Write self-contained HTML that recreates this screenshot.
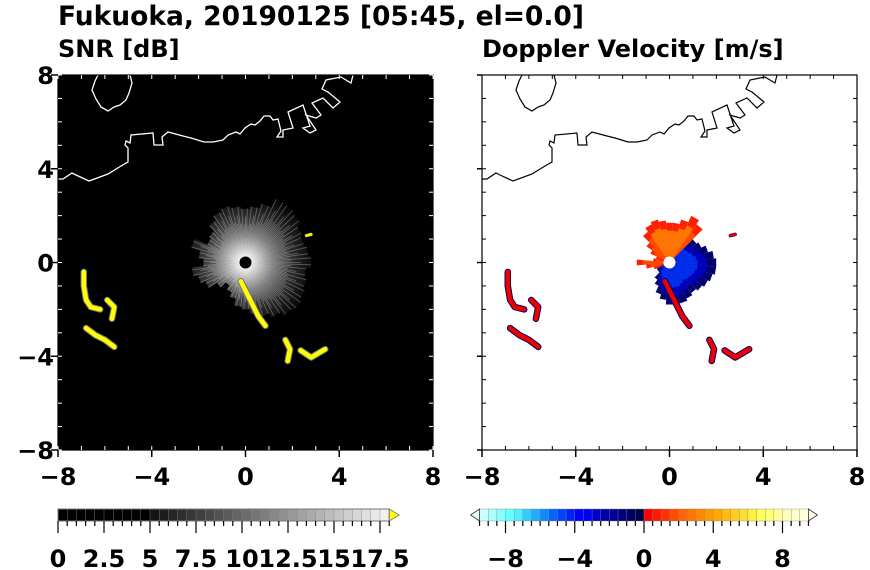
<!DOCTYPE html>
<html><head><meta charset="utf-8"><style>
html,body{margin:0;padding:0;background:#fff;}
svg{display:block;font-family:"DejaVu Sans","Liberation Sans",sans-serif;font-weight:bold;}
</style></head><body>
<svg id="s" width="870" height="570" viewBox="0 0 870 570" xmlns="http://www.w3.org/2000/svg">
<text x="58" y="25" font-size="26.5">Fukuoka, 20190125 [05:45, el=0.0]</text>
<text x="58" y="57" font-size="24">SNR [dB]</text>
<text x="482" y="57" font-size="24">Doppler Velocity [m/s]</text>
</svg>
<script>
// ---- data ----
const axisTicks=[-8,-4,0,4,8];
const snrAz=[0,10,20,30,40,50,60,70,80,90,100,110,120,130,140,150,160,170,180,190,200,210,220,230,240,250,260,270,280,290,300,310,320,330,340,350];
const snrRange=[2.8,2.7,2.6,2.7,2.9,3.0,3.0,2.6,2.4,2.3,2.4,2.5,2.4,2.2,1.9,1.8,2.4,2.0,1.8,2.3,2.1,1.9,1.5,1.2,1.4,1.6,1.9,2.0,2.2,2.4,2.6,2.8,2.9,2.8,2.7,2.6];
const velRange=[2.0,1.9,1.7,1.5,1.4,2.0,2.2,1.9,1.7,1.7,1.8,1.9,1.8,1.6,1.2,0.9,0.6,0.7,1.4,1.0,0.7,0.6,0.6,0.9,1.1,1.4,1.6,1.8,1.8,1.8,1.7,1.6,1.7,1.8,1.9,2.0];
const velValue=[-5,-5,-5,-5,-5,2,3,3,3,3,3,3,3,2,2,2,1,2,2,2,1,-5,-5,-5,-5,-5,-5,-5,-5,-5,-5,-5,-5,-5,-5,-5];
const echoW1=[[-6.9,-0.4],[-6.9,-1.0],[-6.8,-1.6],[-6.6,-1.9],[-6.2,-2.0]];
const echoW2=[[-5.9,-1.6],[-5.6,-1.9],[-5.7,-2.4]];
const echoW3=[[-6.8,-2.8],[-6.4,-3.1],[-6.0,-3.3],[-5.6,-3.6]];
const echoSE1=[[-0.2,-0.8],[0.0,-1.2],[0.2,-1.6],[0.55,-2.3],[0.85,-2.7]];
const echoSE2=[[1.7,-3.3],[1.9,-3.7],[1.8,-4.2]];
const echoSE3=[[2.35,-3.75],[2.8,-4.05],[3.4,-3.7]];
const echoN=[[2.6,1.15],[2.8,1.2]];
const coastMain=[[0,104],[5,104],[14,98],[18,100],[31,106],[50,99],[63,91],[70,87],[70,73],[67,70],[68,66],[72,68],[73,60],[95,58],[96,70],[105,70],[104,62],[110,57],[125,61],[133,63],[146,67],[155,67],[165,65],[170,60],[178,57],[182,59],[187,53],[193,49],[197,50],[202,46],[206,41],[212,41],[215,45],[220,44],[223,56],[219,62],[225,62],[225,55],[235,53],[230,37],[245,30],[252,51],[245,53],[252,58],[258,55],[248,40],[258,43],[263,40],[254,28],[265,23],[275,33],[282,27],[270,17],[264,14],[268,5],[283,2],[293,8],[295,0]];
const coastIsland=[[72,0],[74,8],[71,18],[68,25],[62,30],[56,32],[50,36],[43,32],[38,24],[34,15],[37,6],[40,0]];
const snrTicks=["0","2.5","5","7.5","10","12.5","15","17.5"];
const velTicks=["\u22128","\u22124","0","4","8"];
const velColors=["#ccffff","#aaffff","#88ffff","#66ffff","#55eeff","#33ccff","#22aaff","#1188ff","#0066ff","#0044ff","#0022ff","#0000ff","#0000ee","#0000cc","#0000aa","#000099","#000077","#000066","#000044",
"#ff0000","#ff1a00","#ff3300","#ff4d00","#ff6600","#ff7700","#ff8800","#ff9900","#ffaa00","#ffbb11","#ffcc22","#ffdd33","#ffee44","#ffff55","#ffff77","#ffff99","#ffffbb","#ffffcc","#ffffdd"];
// ---- drawing ----
const NS="http://www.w3.org/2000/svg", S=document.getElementById('s');
function el(t,a,p){const e=document.createElementNS(NS,t);for(const k in a)e.setAttribute(k,a[k]);(p||S).appendChild(e);return e;}
const K=375/16;
function panel(x0,y0,dark,name){
  const g=el('g',{});
  
  
  const sx=v=>x0+187.5+v*K, sy=v=>y0+187.5-v*K;
  el('rect',{x:x0,y:y0,width:375,height:375,fill:dark?'#000':'#fff'},g);
  return {g,sx,sy};
}
function poly(pts,f,g,attrs){const d=pts.map((p,i)=>(i?'L':'M')+f(p)).join(' ');return el('path',Object.assign({d:d,fill:'none'},attrs),g);}
function frame(P,x0,y0,pre){
  const g=P.g;
  el('rect',{x:x0,y:y0,width:375,height:375,fill:'none',stroke:'#000','stroke-width':1.2},g);
  for(let v=-8;v<=8;v++){
    const x=P.sx(v),y=P.sy(v);
    el('line',{x1:x,x2:x,y1:y0,y2:y0+4,stroke:dark(P)},g);el('line',{x1:x,x2:x,y1:y0+375,y2:y0+371,stroke:dark(P)},g);
    el('line',{y1:y,y2:y,x1:x0,x2:x0+4,stroke:dark(P)},g);el('line',{y1:y,y2:y,x1:x0+375,x2:x0+371,stroke:dark(P)},g);
  }
  axisTicks.forEach(v=>{
    const x=P.sx(v),y=P.sy(v);
    el('line',{x1:x,x2:x,y1:y0+375,y2:y0+382,stroke:'#000','stroke-width':1.5},g);
    const t=el('text',{x:x,y:y0+410,'font-size':24,'text-anchor':'middle'},g);t.textContent=(v<0?'\u2212':'')+Math.abs(v);
    
    
    if(pre==='snr-'){
      el('line',{y1:y,y2:y,x1:x0,x2:x0-7,stroke:'#000','stroke-width':1.5},g);
      const u=el('text',{x:x0-4,y:y+9,'font-size':24,'text-anchor':'end'},g);u.textContent=(v<0?'\u2212':'')+Math.abs(v);
      
      
    } else {
      el('line',{y1:y,y2:y,x1:x0,x2:x0-5,stroke:'#000','stroke-width':1.5},g);
    }
  });
}
function dark(P){return P.isDark?'#fff':'#000';}
function drawEchoes(P,c1,c2,g){
  [echoW1,echoW2,echoW3,echoSE1,echoSE2,echoSE3,echoN].forEach((e,i)=>{
    const f=p=>P.sx(p[0])+','+P.sy(p[1]);
    if(c2) poly(e,f,g,{stroke:c2,'stroke-width':i==6?3.5:6.5,'stroke-linecap':'round','stroke-linejoin':'round'});
    const l=poly(e,f,g,{stroke:c1,'stroke-width':i==6?2.5:4.5,'stroke-linecap':'round','stroke-linejoin':'round'});
    
    
  });
}
function wedge(P,az,r,r0,col,g,op){
  const a1=(az-5)*Math.PI/180,a2=(az+5)*Math.PI/180,cx=P.sx(0),cy=P.sy(0),R=r*K,R0=r0*K;
  const d=`M${cx+R0*Math.cos(a1)},${cy-R0*Math.sin(a1)} L${cx+R*Math.cos(a1)},${cy-R*Math.sin(a1)} L${cx+R*Math.cos(a2)},${cy-R*Math.sin(a2)} L${cx+R0*Math.cos(a2)},${cy-R0*Math.sin(a2)} Z`;
  return el('path',{d:d,fill:col,opacity:op},g);
}
// left
const L=panel(58,75,true,'snr-panel');L.isDark=true;
const defs=el('defs',{});
const rg=el('radialGradient',{id:'rg',cx:245,cy:262,r:72,gradientUnits:'userSpaceOnUse'},defs);
el('stop',{offset:'0.05','stop-color':'#fff','stop-opacity':'0.9'},rg);
el('stop',{offset:'0.4','stop-color':'#aaa','stop-opacity':'0.55'},rg);
el('stop',{offset:'1','stop-color':'#555','stop-opacity':'0.05'},rg);
snrAz.forEach((a,i)=>{
  const w=wedge(L,a,snrRange[i],0,'url(#rg)',L.g,1);
  
  
  for(let k=-4;k<=4;k+=2){const rr=snrRange[i]*(0.7+0.3*((k+4)%3)/2);el('line',{x1:L.sx(0),y1:L.sy(0),x2:L.sx(rr*Math.cos((a+k)*Math.PI/180)),y2:L.sy(rr*Math.sin((a+k)*Math.PI/180)),stroke:'#fff','stroke-opacity':0.3,'stroke-width':0.8},L.g);}
});
el('circle',{cx:L.sx(0),cy:L.sy(0),r:6,fill:'#000'},L.g);
poly(coastMain,p=>(58+p[0])+','+(75+p[1]),L.g,{stroke:'#fff','stroke-width':1.3});
poly(coastIsland,p=>(58+p[0])+','+(75+p[1]),L.g,{stroke:'#fff','stroke-width':1.3});
drawEchoes(L,'#ffff00','#777',L.g);
frame(L,58,75,'snr-');
// right
const R=panel(482,75,false,'doppler-panel');R.isDark=false;
const velCol=v=>velColors[Math.max(0,Math.min(37,Math.floor((v+9.5)*2)))];
snrAz.forEach((a,i)=>{
  const v=velValue[i];
  wedge(R,a,velRange[i],0,v<0?'#000070':'#ff2000',R.g,1);
  if(v<0) wedge(R,a,velRange[i]*0.8,0,'#0000bb',R.g,1);
  const w=wedge(R,a,velRange[i]*(v<0?0.6:0.8),0,v<0?'#0030ee':velCol(v-0.5),R.g,1);
  
  
});
el('circle',{cx:R.sx(0),cy:R.sy(0),r:6,fill:'#fff'},R.g);
poly(coastMain,p=>(482+p[0])+','+(75+p[1]),R.g,{stroke:'#000','stroke-width':1.2});
poly(coastIsland,p=>(482+p[0])+','+(75+p[1]),R.g,{stroke:'#000','stroke-width':1.2});
drawEchoes(R,'#ee0000','#000066',R.g);
frame(R,482,75,'vel-');
// SNR colorbar
const cb1=el('g',{});


const bw=(380-58)/35;
for(let i=0;i<36;i++){const db=i*0.5;const gv=db<5?0:Math.round(20+(db-5)/13*230);
  el('rect',{x:58+i*bw,y:509,width:bw+0.3,height:12,fill:`rgb(${gv},${gv},${gv})`,stroke:'#888','stroke-width':0.4},cb1);}
el('path',{d:`M${58+36*bw},509 L${58+36*bw+10},515 L${58+36*bw},521 Z`,fill:'#ffff00',stroke:'#555','stroke-width':0.7},cb1);
el('rect',{x:58,y:509,width:36*bw,height:12,fill:'none',stroke:'#777','stroke-width':1},cb1);
for(let i=0;i<=36;i++){const x=58+i*bw;el('line',{x1:x,x2:x,y1:521,y2:i%5==0?533:526,stroke:'#000','stroke-width':1.2},cb1);}
snrTicks.forEach((t,i)=>{const e=el('text',{x:58+i*5*bw,y:567,'font-size':24,'text-anchor':'middle'},cb1);e.textContent=t;
  
  });
// velocity colorbar
const cb2=el('g',{});


const u=(782-505)/16, vx=v=>644+v*u;
velColors.forEach((c,i)=>{el('rect',{x:vx(-9.5+i*0.5),y:509,width:u*0.5+0.3,height:12,fill:c,stroke:'#888','stroke-width':0.4},cb2);});
el('path',{d:`M${vx(-9.5)},509 L${vx(-9.5)-9},515 L${vx(-9.5)},521 Z`,fill:'#e6ffff',stroke:'#333','stroke-width':0.8},cb2);
el('path',{d:`M${vx(9.5)},509 L${vx(9.5)+9},515 L${vx(9.5)},521 Z`,fill:'#ffffee',stroke:'#333','stroke-width':0.8},cb2);
for(let i=0;i<=38;i++){const v=-9.5+i*0.5;const x=vx(v);el('line',{x1:x,x2:x,y1:521,y2:v%4==0?533:526,stroke:'#000','stroke-width':1.2},cb2);}
velTicks.forEach((t,i)=>{const e=el('text',{x:vx(-8+i*4),y:567,'font-size':24,'text-anchor':'middle'},cb2);e.textContent=t;
  
  });
</script>
</body></html>
